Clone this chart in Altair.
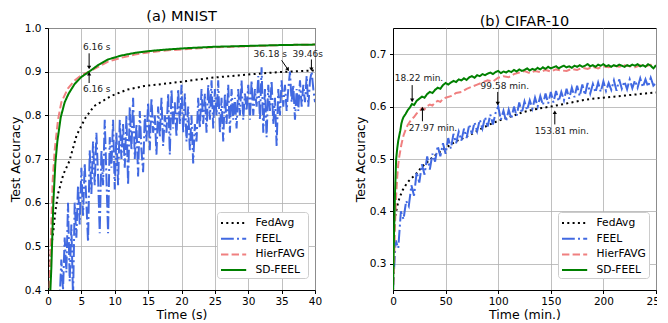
import altair as alt
import pandas as pd

FONT = "DejaVu Sans"
SERIES = ["FedAvg", "FEEL", "HierFAVG", "SD-FEEL"]
COLORS = ["#000000", "#4169e1", "#f08080", "#008000"]
DASHES = [[2, 3.3], [12.8, 3.2, 2, 3.2], [7.4, 3.2], [1, 0]]

# ---------------- (a) MNIST ----------------
mnist_fedavg_t = [0, 0.2, 0.4, 0.8, 1.1, 1.5, 2.3, 3.2, 4.3, 5.6, 6.9, 9.4, 11.9, 14.4, 19.5, 24.5, 29.6, 34.6, 40]
mnist_fedavg_acc = [0.38, 0.44, 0.49, 0.535, 0.58, 0.62, 0.665, 0.695, 0.755, 0.794, 0.821, 0.844, 0.859, 0.867, 0.876, 0.886, 0.893, 0.899, 0.903]

mnist_feel_t0 = 1.5
mnist_feel_dt = 0.25
mnist_feel_acc = [
    0.36, 0.38, 0.47, 0.40, 0.52, 0.44, 0.60, 0.42, 0.55, 0.38,
    0.60, 0.52, 0.64, 0.55, 0.68, 0.57, 0.69, 0.60, 0.51, 0.72,
    0.62, 0.74, 0.64, 0.76, 0.66, 0.53, 0.72, 0.64, 0.79, 0.66,
    0.53, 0.75, 0.68, 0.79, 0.63, 0.76, 0.64, 0.79, 0.70, 0.78,
    0.68, 0.80, 0.64, 0.82, 0.72, 0.84, 0.70, 0.78, 0.66, 0.81,
    0.72, 0.67, 0.80, 0.74, 0.83, 0.72, 0.84, 0.76, 0.80, 0.71,
    0.82, 0.75, 0.84, 0.73, 0.80, 0.76, 0.85, 0.71, 0.86, 0.77,
    0.83, 0.75, 0.86, 0.78, 0.87, 0.76, 0.85, 0.74, 0.82, 0.72,
    0.80, 0.69, 0.78, 0.74, 0.84, 0.77, 0.86, 0.78, 0.85, 0.76,
    0.87, 0.79, 0.88, 0.77, 0.86, 0.80, 0.88, 0.76, 0.84, 0.74,
    0.85, 0.78, 0.87, 0.76, 0.86, 0.79, 0.84, 0.77, 0.86, 0.80,
    0.88, 0.79, 0.85, 0.81, 0.87, 0.79, 0.88, 0.80, 0.86, 0.82,
    0.89, 0.79, 0.91, 0.76, 0.86, 0.75, 0.87, 0.81, 0.88, 0.78,
    0.84, 0.73, 0.86, 0.80, 0.88, 0.82, 0.87, 0.81, 0.86, 0.90,
    0.83, 0.87, 0.79, 0.86, 0.81, 0.88, 0.82, 0.87, 0.83, 0.89,
    0.82, 0.88, 0.90, 0.86, 0.83,
]

mnist_hier_t = [0.2, 0.4, 0.7, 1.0, 1.5, 2, 3, 4, 5, 6.16, 7.5, 9, 11, 13, 15, 18, 21, 25, 30, 35, 40]
mnist_hier_acc = [0.38, 0.5, 0.65, 0.72, 0.79, 0.83, 0.862, 0.88, 0.892, 0.9, 0.911, 0.923, 0.932, 0.939, 0.944, 0.949, 0.952, 0.956, 0.958, 0.961, 0.962]

mnist_sd_t = [0.3, 0.5, 0.8, 1.1, 1.4, 1.9, 2.5, 3.1, 4, 5, 6.16, 7.5, 9, 11, 13, 15, 18, 21, 25, 30, 35, 40]
mnist_sd_acc = [0.38, 0.45, 0.6, 0.69, 0.74, 0.795, 0.83, 0.85, 0.872, 0.888, 0.9, 0.915, 0.928, 0.937, 0.943, 0.947, 0.951, 0.954, 0.957, 0.959, 0.961, 0.962]

mnist_ann_label = ["6.16 s", "6.16 s", "36.18 s", "39.46s"]
mnist_ann_tx = [7.3, 7.3, 33.3, 38.9]
mnist_ann_ty = [0.956, 0.86, 0.94, 0.94]
mnist_ann_x1 = [6.16, 6.16, 35.0, 39.46]
mnist_ann_y1 = [0.942, 0.874, 0.926, 0.928]
mnist_ann_x2 = [6.16, 6.16, 35.9, 39.46]
mnist_ann_y2 = [0.911, 0.894, 0.906, 0.907]
mnist_ann_ang = [180, 0, 145, 180]

# ---------------- (b) CIFAR-10 ----------------
cifar_fedavg_t = [0, 0.5, 1, 2, 4, 6, 9, 12, 15, 18, 21.5, 25, 28, 32, 37, 42, 47, 53, 60, 67, 75, 83, 91, 99, 107, 115, 123, 131, 140, 150, 160, 170, 180, 190, 200, 210, 220, 230, 240, 250]
cifar_fedavg_acc = [0.25, 0.33, 0.37, 0.39, 0.41, 0.425, 0.44, 0.45, 0.458, 0.464, 0.47, 0.479, 0.486, 0.493, 0.502, 0.51, 0.517, 0.525, 0.534, 0.54, 0.548, 0.557, 0.565, 0.572, 0.578, 0.583, 0.589, 0.593, 0.597, 0.6, 0.604, 0.608, 0.612, 0.615, 0.617, 0.619, 0.621, 0.623, 0.625, 0.627]

cifar_feel_dt = 2.5
cifar_feel_acc = [
    0.25, 0.345, 0.33, 0.40, 0.385, 0.42, 0.41, 0.45, 0.43, 0.475,
    0.455, 0.49, 0.47, 0.505, 0.48, 0.51, 0.495, 0.525, 0.505, 0.53,
    0.51, 0.54, 0.52, 0.548, 0.53, 0.552, 0.535, 0.558, 0.54, 0.566,
    0.548, 0.57, 0.553, 0.575, 0.558, 0.58, 0.562, 0.585, 0.566, 0.588,
    0.60, 0.575, 0.592, 0.572, 0.594, 0.577, 0.60, 0.582, 0.608, 0.588,
    0.61, 0.593, 0.612, 0.596, 0.617, 0.60, 0.62, 0.603, 0.625, 0.606,
    0.628, 0.608, 0.63, 0.61, 0.628, 0.612, 0.634, 0.615, 0.636, 0.618,
    0.64, 0.62, 0.642, 0.622, 0.645, 0.625, 0.643, 0.627, 0.646, 0.628,
    0.648, 0.63, 0.645, 0.632, 0.65, 0.63, 0.652, 0.634, 0.648, 0.633,
    0.652, 0.635, 0.65, 0.636, 0.654, 0.637, 0.652, 0.638, 0.655, 0.64,
    0.645,
]

cifar_hier_t = [0, 1, 2, 3, 4, 5, 6, 8, 10, 12, 14, 16, 18, 20, 22.5, 25, 27.5, 30, 32.5, 35, 37.5, 40, 42.5, 45, 47.5, 50, 55, 60, 65, 70, 75, 80, 85, 90, 95, 100, 105, 110, 115, 120, 125, 130, 135, 140, 145, 150, 155, 160, 165, 170, 175, 180, 185, 190, 195, 200, 205, 210, 215, 220, 225, 230, 235, 240, 245, 250]
cifar_hier_acc = [0.24, 0.30, 0.38, 0.43, 0.465, 0.49, 0.505, 0.528, 0.545, 0.556, 0.565, 0.571, 0.577, 0.58, 0.587, 0.591, 0.597, 0.595, 0.601, 0.604, 0.602, 0.608, 0.611, 0.609, 0.615, 0.617, 0.62, 0.626, 0.628, 0.634, 0.638, 0.642, 0.646, 0.65, 0.648, 0.655, 0.658, 0.656, 0.662, 0.665, 0.668, 0.664, 0.668, 0.666, 0.67, 0.667, 0.671, 0.669, 0.668, 0.672, 0.67, 0.674, 0.672, 0.676, 0.673, 0.677, 0.675, 0.678, 0.676, 0.679, 0.677, 0.675, 0.679, 0.677, 0.68, 0.677]

cifar_sd_t = [0, 1, 2, 3, 4, 5, 6, 7, 8, 9, 10, 12, 14, 16, 18, 20, 22.5, 25, 27.5, 30, 32.5, 35, 37.5, 40, 42.5, 45, 47.5, 50, 52.5, 55, 57.5, 60, 62.5, 65, 67.5, 70, 72.5, 75, 77.5, 80, 82.5, 85, 87.5, 90, 92.5, 95, 97.5, 100, 102.5, 105, 107.5, 110, 112.5, 115, 117.5, 120, 122.5, 125, 127.5, 130, 132.5, 135, 137.5, 140, 142.5, 145, 147.5, 150, 152.5, 155, 157.5, 160, 162.5, 165, 167.5, 170, 172.5, 175, 177.5, 180, 182.5, 185, 187.5, 190, 192.5, 195, 197.5, 200, 202.5, 205, 207.5, 210, 212.5, 215, 217.5, 220, 222.5, 225, 227.5, 230, 232.5, 235, 237.5, 240, 242.5, 245, 247.5, 250]
cifar_sd_acc = [0.24, 0.36, 0.44, 0.50, 0.52, 0.535, 0.545, 0.555, 0.568, 0.575, 0.58, 0.586, 0.593, 0.598, 0.605, 0.603, 0.611, 0.615, 0.619, 0.617, 0.624, 0.628, 0.626, 0.632, 0.636, 0.634, 0.641, 0.645, 0.642, 0.646, 0.649, 0.647, 0.652, 0.65, 0.654, 0.651, 0.656, 0.658, 0.655, 0.66, 0.658, 0.662, 0.66, 0.663, 0.665, 0.662, 0.666, 0.668, 0.664, 0.667, 0.665, 0.668, 0.666, 0.67, 0.667, 0.671, 0.668, 0.67, 0.673, 0.669, 0.672, 0.67, 0.674, 0.671, 0.675, 0.672, 0.676, 0.673, 0.675, 0.677, 0.673, 0.676, 0.678, 0.675, 0.677, 0.674, 0.678, 0.676, 0.679, 0.676, 0.678, 0.681, 0.677, 0.679, 0.676, 0.68, 0.678, 0.681, 0.677, 0.679, 0.676, 0.679, 0.677, 0.68, 0.678, 0.676, 0.679, 0.677, 0.68, 0.678, 0.681, 0.677, 0.679, 0.676, 0.681, 0.678, 0.673, 0.679]

cifar_ann_label = ["18.22 min.", "27.97 min.", "99.58 min.", "153.81 min."]
cifar_ann_tx = [24.7, 38.0, 106.3, 160.5]
cifar_ann_ty = [0.654, 0.559, 0.64, 0.553]
cifar_ann_x1 = [18.22, 27.97, 99.58, 153.81]
cifar_ann_y1 = [0.641, 0.572, 0.628, 0.566]
cifar_ann_x2 = [18.22, 27.97, 99.58, 153.81]
cifar_ann_y2 = [0.613, 0.595, 0.607, 0.588]
cifar_ann_ang = [180, 0, 180, 0]


def series_frame(name, ts, accs):
    return pd.DataFrame({"t": ts, "acc": accs, "series": name})


mnist_lines = {
    "FedAvg": series_frame("FedAvg", mnist_fedavg_t, mnist_fedavg_acc),
    "FEEL": series_frame("FEEL", [mnist_feel_t0 + mnist_feel_dt * i for i in range(len(mnist_feel_acc))], mnist_feel_acc),
    "HierFAVG": series_frame("HierFAVG", mnist_hier_t, mnist_hier_acc),
    "SD-FEEL": series_frame("SD-FEEL", mnist_sd_t, mnist_sd_acc),
}
cifar_lines = {
    "FedAvg": series_frame("FedAvg", cifar_fedavg_t, cifar_fedavg_acc),
    "FEEL": series_frame("FEEL", [cifar_feel_dt * i for i in range(len(cifar_feel_acc))], cifar_feel_acc),
    "HierFAVG": series_frame("HierFAVG", cifar_hier_t, cifar_hier_acc),
    "SD-FEEL": series_frame("SD-FEEL", cifar_sd_t, cifar_sd_acc),
}
mnist_ann = pd.DataFrame({"label": mnist_ann_label, "tx": mnist_ann_tx, "ty": mnist_ann_ty,
                          "x1": mnist_ann_x1, "y1": mnist_ann_y1, "x2": mnist_ann_x2,
                          "y2": mnist_ann_y2, "ang": mnist_ann_ang})
cifar_ann = pd.DataFrame({"label": cifar_ann_label, "tx": cifar_ann_tx, "ty": cifar_ann_ty,
                          "x1": cifar_ann_x1, "y1": cifar_ann_y1, "x2": cifar_ann_x2,
                          "y2": cifar_ann_y2, "ang": cifar_ann_ang})


def panel(lines, ann, xdom, xvals, ydom, yvals, title, xtitle, width, height, lx, ly):
    xscale = alt.Scale(domain=xdom, nice=False, zero=False)
    yscale = alt.Scale(domain=ydom, nice=False, zero=False)
    xaxis = alt.Axis(values=xvals, title=xtitle, format="d", labelFlush=False,
                     labelPadding=2.5, titlePadding=2)
    yaxis = alt.Axis(values=yvals, title="Test Accuracy", format=".1f", labelFlush=False)

    def X(f):
        return alt.X(f + ":Q", scale=xscale, axis=xaxis)

    def Y(f):
        return alt.Y(f + ":Q", scale=yscale, axis=yaxis)

    legend = alt.Legend(
        title=None, orient="none", legendX=lx, legendY=ly, fillColor="white",
        strokeColor="#cccccc", padding=3, cornerRadius=3, labelFont=FONT,
        labelFontSize=10.7, labelColor="black", symbolType="M-1,0H2.6",
        symbolSize=196, symbolStrokeWidth=2, rowPadding=2.7, labelOffset=19.5,
    )
    color = alt.Color("series:N", scale=alt.Scale(domain=SERIES, range=COLORS), legend=legend)
    dash = alt.StrokeDash("series:N", scale=alt.Scale(domain=SERIES, range=DASHES), legend=legend)

    layers = []
    for s in SERIES:
        layers.append(
            alt.Chart(lines[s]).mark_line(clip=True, strokeWidth=2)
            .encode(x=X("t"), y=Y("acc"), color=color, strokeDash=dash)
        )
    rules = alt.Chart(ann).mark_rule(color="black", strokeWidth=1).encode(
        x=X("x1"), y=Y("y1"), x2="x2:Q", y2="y2:Q")
    heads = alt.Chart(ann).mark_point(shape="triangle", filled=True, size=18, color="black", opacity=1).encode(
        x=X("x2"), y=Y("y2"), angle=alt.Angle("ang:Q", scale=None))
    texts = alt.Chart(ann).mark_text(font=FONT, fontSize=9, color="#222222", baseline="middle").encode(
        x=X("tx"), y=Y("ty"), text="label:N")
    return alt.layer(*layers, rules, heads, texts).properties(
        width=width, height=height, title=alt.Title(title))


left = panel(mnist_lines, mnist_ann, [0, 40], [0, 5, 10, 15, 20, 25, 30, 35, 40],
             [0.4, 1.0], [0.4, 0.5, 0.6, 0.7, 0.8, 0.9, 1.0], "(a) MNIST", "Time (s)", 267, 262, 169, 184)
right = panel(cifar_lines, cifar_ann, [0, 250], [0, 50, 100, 150, 200, 250],
              [0.25, 0.75], [0.3, 0.4, 0.5, 0.6, 0.7], "(b) CIFAR-10", "Time (min.)", 263, 262, 165, 184)

chart = (
    alt.hconcat(left, right, spacing=78, bounds="flush")
    .resolve_scale(color="independent", strokeDash="independent")
    .resolve_legend(color="independent", strokeDash="independent")
    .properties(padding={"left": 0, "top": 0, "right": -10, "bottom": 0})
    .configure_view(stroke="black", strokeWidth=1)
    .configure_axis(
        labelFont=FONT, titleFont=FONT, labelFontSize=10.5, titleFontSize=12.5,
        labelColor="black", titleColor="black", titleFontWeight="normal",
        domainColor="black", tickColor="black", tickSize=3.5, labelPadding=3.5,
        titlePadding=2, grid=True, gridColor="#b0b0b0", gridWidth=0.8,
    )
    .configure_title(font=FONT, fontSize=14.5, fontWeight="normal", color="black", offset=-1)
)

chart.save("out.html", embed_options={"renderer": "svg", "actions": False})
